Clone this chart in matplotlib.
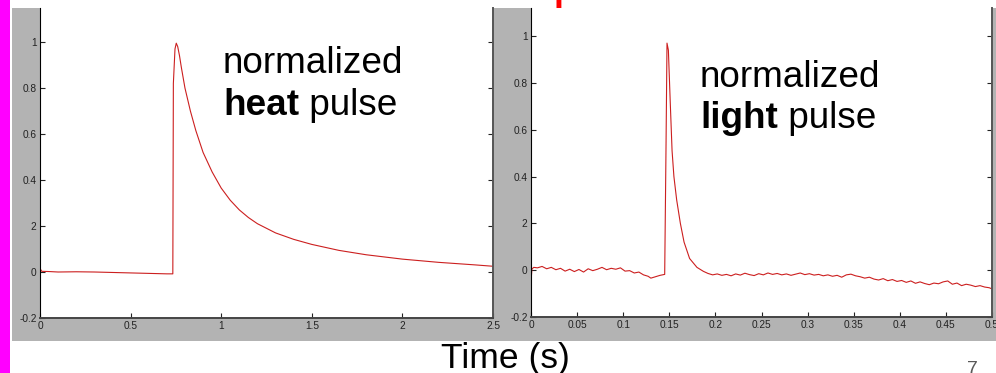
import matplotlib.pyplot as plt
from matplotlib.patches import Rectangle

plt.rcParams['font.family'] = ['Liberation Sans', 'DejaVu Sans']

# heat pulse
heat_t = [0.0, 0.01, 0.05, 0.1, 0.2, 0.3, 0.4, 0.5, 0.6, 0.7, 0.733, 0.736, 0.745,
          0.752, 0.76, 0.77, 0.78, 0.8, 0.83, 0.86, 0.9, 0.95, 1.0, 1.05,
          1.1, 1.15, 1.2, 1.3, 1.4, 1.5, 1.65, 1.8, 2.0, 2.2, 2.4, 2.5]
heat_v = [0.015, 0.003, 0.002, 0.0, 0.001, 0.0, -0.002, -0.004, -0.006, -0.008,
          -0.008, 0.82, 0.97, 0.995, 0.98, 0.94, 0.89, 0.8, 0.7, 0.615, 0.52,
          0.435, 0.365, 0.312, 0.27, 0.237, 0.21, 0.17, 0.142, 0.12, 0.094,
          0.075, 0.056, 0.042, 0.031, 0.025]

# light pulse
light_t = [0.0, 0.001, 0.003, 0.007, 0.012, 0.017, 0.022, 0.027, 0.032, 0.037,
           0.042, 0.047, 0.052, 0.057, 0.062, 0.067, 0.072, 0.077, 0.082, 0.087,
           0.092, 0.097, 0.102, 0.107, 0.112, 0.117, 0.122, 0.127, 0.13, 0.135,
           0.14, 0.145, 0.1465, 0.1475, 0.149, 0.151, 0.153, 0.155, 0.158, 0.162,
           0.166, 0.172, 0.18, 0.187, 0.192, 0.197, 0.202, 0.207, 0.212, 0.217,
           0.222, 0.227, 0.232, 0.237, 0.242, 0.247, 0.252, 0.257, 0.262, 0.267,
           0.272, 0.277, 0.282, 0.287, 0.292, 0.297, 0.302, 0.307, 0.312, 0.317,
           0.322, 0.327, 0.332, 0.337, 0.342, 0.347, 0.352, 0.357, 0.362, 0.367,
           0.372, 0.377, 0.382, 0.387, 0.392, 0.397, 0.402, 0.407, 0.412, 0.417,
           0.422, 0.427, 0.432, 0.437, 0.442, 0.447, 0.452, 0.457, 0.462, 0.467,
           0.472, 0.477, 0.482, 0.487, 0.492, 0.497, 0.5]
light_v = [-0.05, 0.005, 0.012, 0.01, 0.016, 0.006, 0.012, 0.002, 0.008, -0.004,
           0.004, -0.006, 0.003, -0.008, 0.006, -0.002, 0.004, 0.012, 0.002, 0.008,
           0.004, 0.01, -0.004, -0.002, -0.012, -0.008, -0.02, -0.026, -0.034, -0.028,
           -0.022, -0.018, 0.55, 0.97, 0.94, 0.72, 0.51, 0.4, 0.3, 0.2,
           0.12, 0.05, 0.012, -0.005, -0.014, -0.02, -0.016, -0.022, -0.018, -0.024,
           -0.016, -0.021, -0.013, -0.019, -0.023, -0.015, -0.02, -0.012, -0.018, -0.014,
           -0.02, -0.016, -0.022, -0.017, -0.012, -0.019, -0.015, -0.021, -0.018, -0.024,
           -0.02, -0.026, -0.022, -0.03, -0.02, -0.017, -0.024, -0.028, -0.034, -0.03,
           -0.038, -0.042, -0.036, -0.045, -0.04, -0.048, -0.044, -0.052, -0.046, -0.056,
           -0.05, -0.057, -0.062, -0.055, -0.058, -0.05, -0.046, -0.06, -0.055, -0.066,
           -0.06, -0.064, -0.07, -0.066, -0.072, -0.075, -0.08]

heat_xticks = [0, 0.5, 1, 1.5, 2, 2.5]
heat_xlabels = ['0', '0.5', '1', '1.5', '2', '2.5']
light_xticks = [0, 0.05, 0.1, 0.15, 0.2, 0.25, 0.3, 0.35, 0.4, 0.45, 0.5]
light_xlabels = ['0', '0.05', '0.1', '0.15', '0.2', '0.25', '0.3', '0.35', '0.4', '0.45', '0.5']
yticks = [-0.2, 0, 0.2, 0.4, 0.6, 0.8, 1]
ylabels = ['-0.2', '0', '2', '0.4', '0.6', '0.8', '1']

W, H = 996, 373
fig = plt.figure(figsize=(W / 100, H / 100), dpi=100)

def px(x0, y0, x1, y1):
    # pixel box (top-left origin) -> figure fraction rect
    return [x0 / W, 1 - y1 / H, (x1 - x0) / W, (y1 - y0) / H]

# magenta strip and grey matlab panels, behind the axes
fig.patches.append(Rectangle((0, 0), 10 / W, 1, transform=fig.transFigure,
                             facecolor='#ff00ff', edgecolor='none', zorder=-1))
for box in [px(12, 8, 493, 341), px(493, 8, 996, 341)]:
    fig.patches.append(Rectangle((box[0], box[1]), box[2], box[3], transform=fig.transFigure,
                                 facecolor='#b3b3b3', edgecolor='none', zorder=-1))

ax1 = fig.add_axes(px(40, 8, 493, 318))
ax2 = fig.add_axes(px(531, 8, 992, 317))

ax1.plot(heat_t, heat_v, color='#cc1f1f', lw=0.8)
ax2.plot(light_t, light_v, color='#cc1f1f', lw=0.8)

ax1.set_xlim(0, 2.5)
ax1.set_ylim(-0.2, 1.148)
ax2.set_xlim(0, 0.5)
ax2.set_ylim(-0.2, 1.12)
ax1.set_xticks(heat_xticks, heat_xlabels)
ax2.set_xticks(light_xticks, light_xlabels)

for ax in (ax1, ax2):
    ax.set_yticks(yticks, ylabels)
    ax.tick_params(direction='in', length=3.5, width=0.8, labelsize=7.3,
                   right=True, top=False, pad=2.5, colors='#222222')
    ax.spines['top'].set_visible(False)
    ax.spines['left'].set_color('black')
    ax.spines['bottom'].set_color('#444444')
    ax.spines['bottom'].set_linewidth(1.4)
    ax.spines['right'].set_color('#555555')
    ax.spines['right'].set_linewidth(1.4)

# annotations
fs = 26.6
fig.text(223 / W, 1 - 73 / H, 'normalized', fontsize=fs, va='baseline')
t1 = fig.text(223 / W, 1 - 115 / H, 'heat', fontsize=fs, fontweight='bold', va='baseline')
fig.text(700 / W, 1 - 87 / H, 'normalized', fontsize=fs, va='baseline')
t2 = fig.text(700 / W, 1 - 128 / H, 'light', fontsize=fs, fontweight='bold', va='baseline')
for t in (t1, t2):
    fig.add_artist(plt.Annotation(' pulse', xy=(1, 0), xycoords=t, fontsize=fs,
                                  va='bottom', ha='left'))

fig.text(505 / W, 1 - 368 / H, 'Time (s)', fontsize=25.5, ha='center', va='baseline')
fig.text(967 / W, 1 - 374 / H, '7', fontsize=14, color='#595959', va='baseline')
# clipped bit of the slide title
fig.text(554 / W, 1.0, 'p', fontsize=26, color='red', fontweight='bold', va='baseline')

fig.savefig('out.png', dpi=100)
